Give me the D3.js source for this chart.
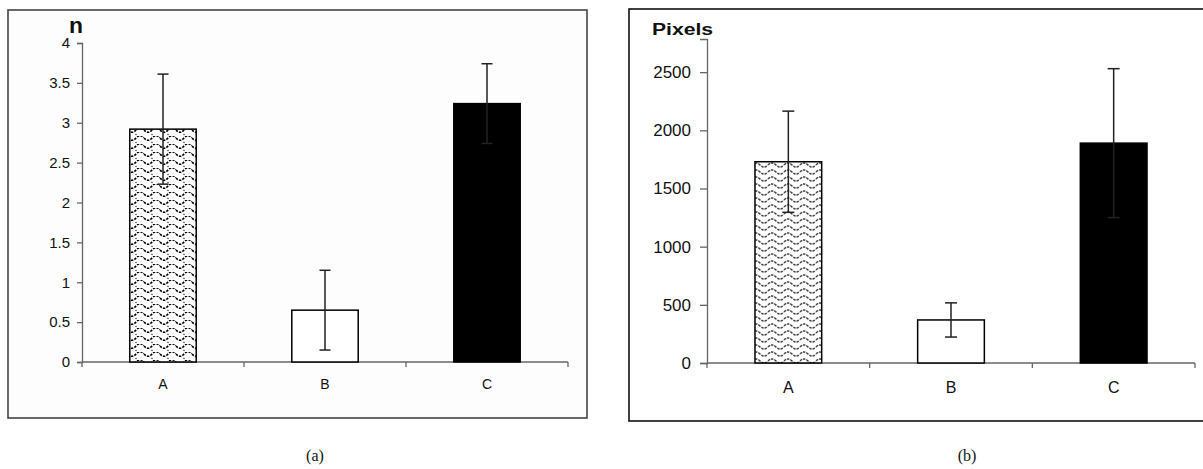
<!DOCTYPE html>
<meta charset="utf-8">
<style>
body { margin: 0; background: #fff; }
svg text { font-family: "Liberation Sans", Arial, sans-serif; fill: #111; }
.caption { font-family: "Liberation Serif", "Times New Roman", serif; font-size: 16px; }
.axis path, .axis line { stroke: #666; stroke-width: 1.3px; }
.err { stroke: #222; stroke-width: 1.5px; }
</style>
<body>
<svg width="1203" height="469"></svg>
</body>
<script src="https://d3js.org/d3.v7.min.js"></script>
<script>

// data
var categories = ["A", "B", "C"];
var countMeans = [2.92, 0.65, 3.24];
var countErrs = [0.69, 0.50, 0.50];
var countTicks = [0, 0.5, 1, 1.5, 2, 2.5, 3, 3.5, 4];
var pixelMeans = [1730, 370, 1890];
var pixelErrs = [435, 147, 640];
var pixelTicks = [0, 500, 1000, 1500, 2000, 2500];
var fills = ["url(#waveA)", "#fff", "#000"];
var fillsB = ["url(#waveB)", "#fff", "#000"];

var svg = d3.select("svg");
var defs = svg.append("defs");

// wavy hatch for bar A, left panel (black dotted waves)
var pa = defs.append("pattern").attr("id", "waveA")
    .attr("patternUnits", "userSpaceOnUse").attr("width", 16).attr("height", 8);
pa.append("rect").attr("width", 16).attr("height", 8).attr("fill", "#fff");
pa.append("path").attr("d", "M0,2 Q4,6.5 8,2 T16,2")
    .attr("fill", "none").attr("stroke", "#000").attr("stroke-width", 1.7)
    .attr("stroke-dasharray", "2.4 1.2");
pa.append("circle").attr("cx", 8).attr("cy", 6.5).attr("r", 0.7).attr("fill", "#222");

// wavy hatch for bar A, right panel (grey waves)
var pb = defs.append("pattern").attr("id", "waveB")
    .attr("patternUnits", "userSpaceOnUse").attr("width", 16).attr("height", 7);
pb.append("rect").attr("width", 16).attr("height", 7).attr("fill", "#fff");
pb.append("path").attr("d", "M0,4 Q4,0 8,4 T16,4")
    .attr("fill", "none").attr("stroke", "#444").attr("stroke-width", 1.6)
    .attr("stroke-dasharray", "2.5 1");

function panel(opt) {
  var g = svg.append("g");

  g.append("rect")
      .attr("x", opt.frame[0]).attr("y", opt.frame[1])
      .attr("width", opt.frame[2]).attr("height", opt.frame[3])
      .attr("fill", opt.bg).attr("stroke", opt.frameColor).attr("stroke-width", 1.6);

  var x = d3.scaleBand().domain(categories).range(opt.xr)
      .paddingInner(0.59).paddingOuter(0.295);
  var y = d3.scaleLinear().domain(opt.yd).range(opt.yr);

  // y axis
  var ya = g.append("g").attr("class", "axis")
      .attr("transform", "translate(" + opt.xr[0] + ",0)")
      .call(d3.axisLeft(y).tickValues(opt.ticks).tickSizeOuter(0)
            .tickSize(opt.tickLen).tickPadding(opt.tickPad).tickFormat(d3.format("")));
  ya.selectAll("text").style("font-size", opt.tickFont + "px").style("fill", "#111");

  // x axis: line with ticks at category boundaries
  g.append("line")
      .attr("x1", opt.xr[0]).attr("x2", opt.xr[1])
      .attr("y1", y(0)).attr("y2", y(0))
      .attr("stroke", "#666").attr("stroke-width", 1.3);
  g.selectAll(".xt").data(d3.range(categories.length + 1)).enter().append("line")
      .attr("x1", function(i) { return opt.xr[0] + i * x.step(); })
      .attr("x2", function(i) { return opt.xr[0] + i * x.step(); })
      .attr("y1", y(0)).attr("y2", y(0) + 5)
      .attr("stroke", "#666").attr("stroke-width", 1.3);
  g.selectAll(".xl").data(categories).enter().append("text")
      .attr("x", function(d) { return x(d) + x.bandwidth() / 2; })
      .attr("y", y(0) + opt.catOff)
      .attr("text-anchor", "middle").attr("dominant-baseline", "middle")
      .style("font-size", opt.catFont + "px")
      .text(function(d) { return d; });

  // bars
  g.selectAll(".bar").data(categories).enter().append("rect")
      .attr("x", function(d) { return x(d); })
      .attr("width", x.bandwidth())
      .attr("y", function(d, i) { return y(opt.means[i]); })
      .attr("height", function(d, i) { return y(0) - y(opt.means[i]); })
      .attr("fill", function(d, i) { return opt.fills[i]; })
      .attr("stroke", "#000").attr("stroke-width", 1.5);

  // error bars
  var eb = g.selectAll(".eb").data(categories).enter().append("g");
  eb.append("line").attr("class", "err")
      .attr("x1", function(d) { return x(d) + x.bandwidth() / 2; })
      .attr("x2", function(d) { return x(d) + x.bandwidth() / 2; })
      .attr("y1", function(d, i) { return y(opt.means[i] - opt.errs[i]); })
      .attr("y2", function(d, i) { return y(opt.means[i] + opt.errs[i]); });
  [-1, 1].forEach(function(s) {
    eb.append("line").attr("class", "err")
        .attr("x1", function(d) { return x(d) + x.bandwidth() / 2 - opt.cap; })
        .attr("x2", function(d) { return x(d) + x.bandwidth() / 2 + opt.cap; })
        .attr("y1", function(d, i) { return y(opt.means[i] + s * opt.errs[i]); })
        .attr("y2", function(d, i) { return y(opt.means[i] + s * opt.errs[i]); });
  });

  // y title
  g.append("text").attr("x", opt.title[0]).attr("y", opt.title[1])
      .style("font-size", opt.titleFont + "px").style("font-weight", "bold")
      .attr("textLength", opt.titleLen).attr("lengthAdjust", "spacingAndGlyphs")
      .text(opt.titleText);

  g.append("text").attr("class", "caption")
      .attr("x", opt.caption[0]).attr("y", opt.caption[1])
      .attr("text-anchor", "middle").attr("dominant-baseline", "middle")
      .text(opt.captionText);
}

panel({
  frame: [8, 10, 579, 408], bg: "#fdfdfd", frameColor: "#444",
  xr: [82, 568], yd: [0, 4], yr: [362, 43],
  ticks: countTicks, tickLen: 5, tickPad: 7, tickFont: 15,
  means: countMeans, errs: countErrs, fills: fills, cap: 5.5,
  catOff: 23, catFont: 14,
  title: [69, 33], titleFont: 22, titleLen: 14, titleText: "n",
  caption: [315, 457], captionText: "(a)"
});

panel({
  frame: [629, 9, 590, 412], bg: "#fff", frameColor: "#111",
  xr: [707, 1195], yd: [0, 2785], yr: [363, 39],
  ticks: pixelTicks, tickLen: 7, tickPad: 9, tickFont: 17,
  means: pixelMeans, errs: pixelErrs, fills: fillsB, cap: 6,
  catOff: 26, catFont: 16,
  title: [652, 35], titleFont: 16, titleLen: 61, titleText: "Pixels",
  caption: [967, 457], captionText: "(b)"
});

</script>
